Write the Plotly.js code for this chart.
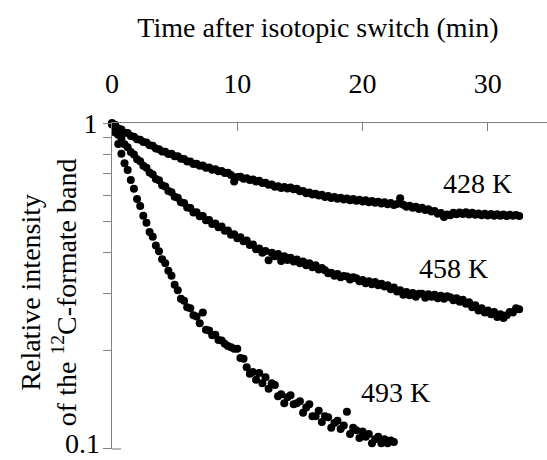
<!DOCTYPE html>
<html>
<head>
<meta charset="utf-8">
<script src="https://cdn.plot.ly/plotly-3.0.1.min.js"></script>
<style>html,body{margin:0;padding:0;background:#fff;}#chart{width:547px;height:460px;}</style>
</head>
<body>
<div id="chart"></div>
<script>
// Time after isotopic switch (min)
const time = [
0,0.25,0.5,0.75,1,1.25,1.5,1.75,2,2.25,2.5,2.75,3,3.25,3.5,3.75,4,4.25,4.5,4.75,
5,5.25,5.5,5.75,6,6.25,6.5,6.75,7,7.25,7.5,7.75,8,8.25,8.5,8.75,9,9.25,9.5,9.75,
10,10.25,10.5,10.75,11,11.25,11.5,11.75,12,12.25,12.5,12.75,13,13.25,13.5,13.75,14,14.25,14.5,14.75,
15,15.25,15.5,15.75,16,16.25,16.5,16.75,17,17.25,17.5,17.75,18,18.25,18.5,18.75,19,19.25,19.5,19.75,
20,20.25,20.5,20.75,21,21.25,21.5,21.75,22,22.25,22.5,22.75,23,23.25,23.5,23.75,24,24.25,24.5,24.75,
25,25.25,25.5,25.75,26,26.25,26.5,26.75,27,27.25,27.5,27.75,28,28.25,28.5,28.75,29,29.25,29.5,29.75,
30,30.25,30.5,30.75,31,31.25,31.5,31.75,32,32.25,32.5
];
const time493 = [
0,0.25,0.5,0.75,1,1.25,1.5,1.75,2,2.25,2.5,2.75,3,3.25,3.5,3.75,4,4.25,4.5,4.75,
5,5.25,5.5,5.75,6,6.25,6.5,6.75,7,7.25,7.5,7.75,8,8.25,8.5,8.75,9,9.25,9.5,9.75,
10,10.25,10.5,10.75,11,11.25,11.5,11.75,12,12.25,12.5,12.75,13,13.25,13.5,13.75,14,14.25,14.5,14.75,
15,15.25,15.5,15.75,16,16.25,16.5,16.75,17,17.25,17.5,17.75,18,18.25,18.5,18.75,19,19.25,19.5,19.75,
20,20.25,20.5,20.75,21,21.25,21.5,21.75,22,22.25,22.5
];
// Relative intensity, 428 K
const k428 = [
1.000,0.988,0.962,0.955,0.934,0.931,0.912,0.907,0.892,0.889,0.874,0.871,0.855,0.851,0.835,0.831,0.817,0.816,0.803,0.804,
0.790,0.791,0.777,0.776,0.762,0.762,0.749,0.750,0.739,0.740,0.729,0.730,0.719,0.721,0.711,0.712,0.702,0.703,0.692,0.662,
0.683,0.684,0.674,0.677,0.668,0.671,0.662,0.665,0.655,0.656,0.646,0.647,0.637,0.640,0.632,0.636,0.629,0.634,0.626,0.628,
0.617,0.619,0.609,0.612,0.603,0.607,0.599,0.602,0.593,0.597,0.589,0.593,0.586,0.590,0.582,0.587,0.579,0.584,0.577,0.581,
0.574,0.579,0.571,0.576,0.569,0.573,0.566,0.571,0.563,0.568,0.560,0.564,0.588,0.561,0.553,0.557,0.549,0.553,0.545,0.549,
0.541,0.544,0.535,0.537,0.527,0.529,0.515,0.524,0.521,0.530,0.525,0.531,0.526,0.532,0.524,0.530,0.523,0.528,0.521,0.527,
0.520,0.526,0.519,0.525,0.519,0.524,0.518,0.523,0.519,0.522,0.518
];
// Relative intensity, 458 K
const k458 = [
0.995,0.962,0.920,0.898,0.860,0.843,0.814,0.801,0.774,0.763,0.739,0.729,0.705,0.695,0.673,0.667,0.644,0.638,0.618,0.613,
0.594,0.590,0.571,0.568,0.550,0.548,0.531,0.532,0.517,0.518,0.503,0.504,0.490,0.492,0.479,0.481,0.467,0.468,0.454,0.456,
0.443,0.446,0.434,0.436,0.422,0.424,0.410,0.412,0.400,0.405,0.379,0.400,0.390,0.396,0.377,0.390,0.380,0.386,0.376,0.381,
0.371,0.376,0.366,0.371,0.361,0.366,0.355,0.359,0.353,0.346,0.347,0.340,0.344,0.336,0.339,0.338,0.331,0.336,0.334,0.327,
0.330,0.322,0.327,0.320,0.325,0.318,0.321,0.315,0.318,0.309,0.313,0.304,0.307,0.297,0.303,0.296,0.301,0.293,0.299,0.299,
0.291,0.298,0.293,0.297,0.290,0.295,0.289,0.294,0.292,0.286,0.290,0.283,0.287,0.279,0.282,0.272,0.276,0.266,0.270,0.262,
0.266,0.259,0.263,0.254,0.259,0.252,0.257,0.263,0.262,0.270,0.268
];
// Relative intensity, 493 K
const k493 = [
0.990,0.935,0.862,0.805,0.752,0.718,0.668,0.628,0.585,0.556,0.519,0.494,0.463,0.448,0.421,0.404,0.382,0.371,0.352,0.340,
0.319,0.307,0.289,0.285,0.272,0.270,0.257,0.255,0.243,0.262,0.232,0.231,0.223,0.224,0.216,0.215,0.210,0.207,0.205,0.203,
0.203,0.190,0.189,0.178,0.170,0.172,0.163,0.171,0.159,0.166,0.153,0.159,0.157,0.145,0.147,0.138,0.144,0.146,0.137,0.138,
0.140,0.129,0.134,0.137,0.126,0.126,0.131,0.121,0.126,0.125,0.116,0.120,0.122,0.115,0.118,0.130,0.111,0.116,0.114,0.108,
0.113,0.109,0.111,0.104,0.107,0.109,0.104,0.107,0.104,0.106,0.105
];
const seriesNames = ['428 K','458 K','493 K'];
const yTickVals = [1];
const yTickText = ['1'];
const yBottomLabel = '0.1';
const yMinorVals = [0.1,0.2,0.3,0.4,0.5,0.6,0.7,0.8,0.9];
const xTickVals = [0,10,20,30];

const FONT = "'Liberation Serif', 'Times New Roman', 'DejaVu Serif', serif";
const mk = {color:'#000', size:8, line:{width:0}};
const data = [
  {x:time, y:k428, type:'scatter', mode:'markers', name:seriesNames[0], marker:mk, cliponaxis:false},
  {x:time, y:k458, type:'scatter', mode:'markers', name:seriesNames[1], marker:mk, cliponaxis:false},
  {x:time493, y:k493, type:'scatter', mode:'markers', name:seriesNames[2], marker:mk, cliponaxis:false}
];
const layout = {
  width:547, height:460,
  margin:{l:112, r:0, t:123, b:11, pad:0},
  paper_bgcolor:'#fff', plot_bgcolor:'#fff',
  showlegend:false,
  font:{family:FONT, size:28, color:'#000'},
  title:{text:'Time after isotopic switch (min)', font:{family:FONT, size:28, color:'#000'},
         xref:'container', yref:'container', x:318/547, xanchor:'center', y:1-27/460, yanchor:'middle'},
  xaxis:{side:'top', range:[0,34.72], tickvals:xTickVals, ticks:'inside', ticklen:8, tickcolor:'#808080', tickwidth:1,
         showline:true, linecolor:'#808080', linewidth:1, showgrid:false, zeroline:false,
         tickfont:{family:FONT, size:28, color:'#000'}, ticklabelstandoff:18},
  yaxis:{type:'log', range:[-1.0004,0], tickvals:yTickVals, ticktext:yTickText, ticks:'outside', ticklen:8, tickcolor:'#808080', tickwidth:1,
         minor:{tickvals:yMinorVals, ticks:'outside', ticklen:8, tickcolor:'#808080', tickwidth:1, showgrid:false},
         showline:true, linecolor:'#808080', linewidth:1, showgrid:false, zeroline:false,
         tickfont:{family:FONT, size:28, color:'#000'}},
  shapes:[{type:'line', xref:'paper', yref:'paper', x0:0, x1:9/435, y0:0, y1:0, line:{color:'#a0a0a0', width:1.5}}],
  annotations:[
    {text:yBottomLabel, xref:'paper', yref:'paper', x:(102-112)/435, y:0, xanchor:'right', yanchor:'middle', yshift:6,
     showarrow:false, font:{family:FONT, size:28, color:'#000'}},
    {text:'Relative intensity<br>of the <sup>12</sup>C-formate band', xref:'paper', yref:'paper', x:(48-112)/435, y:(449-292)/326.3,
     xanchor:'center', yanchor:'middle', textangle:-90, showarrow:false, font:{family:FONT, size:28, color:'#000'}},
    {text:seriesNames[0], xref:'x', yref:'y', x:29.17, y:-0.1848, showarrow:false, font:{family:FONT, size:28, color:'#000'}},
    {text:seriesNames[1], xref:'x', yref:'y', x:27.24, y:-0.4453, showarrow:false, font:{family:FONT, size:28, color:'#000'}},
    {text:seriesNames[2], xref:'x', yref:'y', x:22.59, y:-0.8284, showarrow:false, font:{family:FONT, size:28, color:'#000'}}
  ]
};
Plotly.newPlot('chart', data, layout, {staticPlot:true, displayModeBar:false});
</script>
</body>
</html>
